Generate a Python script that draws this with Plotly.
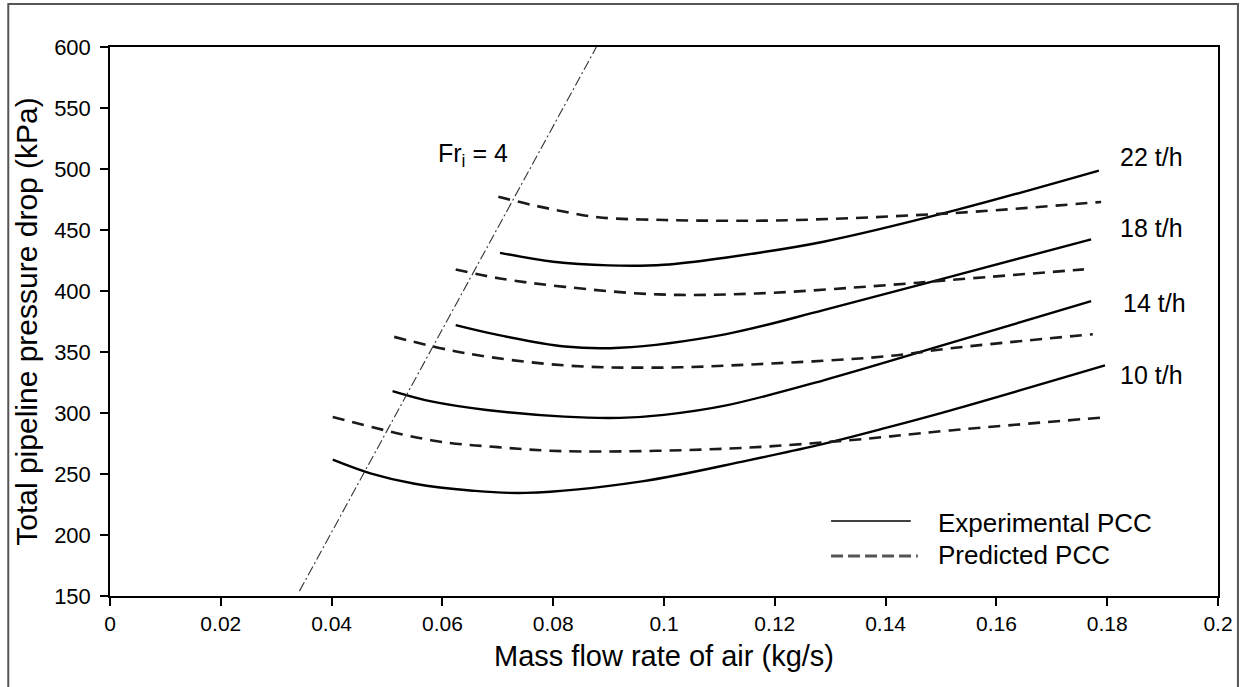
import plotly.graph_objects as go

# ---- data ----
exp10_x = [0.0402, 0.047, 0.055, 0.065, 0.075, 0.096, 0.115, 0.1276, 0.1402, 0.1516, 0.1796]
exp10_y = [261.7, 250.5, 242.0, 236.5, 234.5, 244.0, 261.0, 273.4, 288.0, 302.0, 339.0]
pred10_x = [0.0402, 0.0582, 0.070, 0.0821, 0.1109, 0.133, 0.1516, 0.1796]
pred10_y = [296.7, 277.5, 272.0, 268.7, 270.7, 277.5, 285.7, 296.5]

exp14_x = [0.051, 0.058, 0.068, 0.082, 0.092, 0.100, 0.111, 0.1288, 0.1516, 0.1771]
exp14_y = [318.0, 309.5, 302.5, 297.0, 296.0, 298.5, 306.0, 326.8, 357.2, 391.7]
pred14_x = [0.0513, 0.0642, 0.0821, 0.0989, 0.1168, 0.1402, 0.1516, 0.1774]
pred14_y = [362.4, 349.0, 339.0, 337.2, 340.0, 346.5, 353.0, 364.6]

exp18_x = [0.0624, 0.070, 0.0821, 0.092, 0.111, 0.1288, 0.1516, 0.1771]
exp18_y = [372.0, 364.0, 354.5, 353.5, 364.5, 384.3, 411.6, 442.3]
pred18_x = [0.0624, 0.0701, 0.0821, 0.0989, 0.1168, 0.1402, 0.1516, 0.1758]
pred18_y = [417.7, 410.5, 403.4, 397.2, 398.0, 404.8, 409.0, 417.7]

exp22_x = [0.0704, 0.080, 0.090, 0.100, 0.111, 0.1288, 0.1516, 0.1785]
exp22_y = [431.3, 424.0, 421.0, 421.5, 427.3, 440.4, 465.0, 498.7]
pred22_x = [0.0701, 0.0762, 0.0821, 0.0881, 0.1001, 0.112, 0.124, 0.1516, 0.1789]
pred22_y = [477.3, 470.5, 465.0, 460.4, 458.2, 457.6, 458.2, 463.7, 473.0]

fr_x = [0.0342, 0.0878]
fr_y = [154.0, 600.0]

rate_labels = ["22 t/h", "18 t/h", "14 t/h", "10 t/h"]
rate_label_x = [0.188, 0.188, 0.1886, 0.188]
rate_label_y = [510, 451.6, 390, 331]

x_ticks = [0, 0.02, 0.04, 0.06, 0.08, 0.1, 0.12, 0.14, 0.16, 0.18, 0.2]
x_ticktext = ["0", "0.02", "0.04", "0.06", "0.08", "0.1", "0.12", "0.14", "0.16", "0.18", "0.2"]
y_ticks = [150, 200, 250, 300, 350, 400, 450, 500, 550, 600]

FONT = "Liberation Sans, Arial, sans-serif"

fig = go.Figure()

solid = dict(color="black", width=2.4, shape="spline", smoothing=1.0)
dashed = dict(color="#1a1a1a", width=2.6, dash="12px,8px", shape="spline", smoothing=1.0)

for xs, ys in [(exp10_x, exp10_y), (exp14_x, exp14_y), (exp18_x, exp18_y), (exp22_x, exp22_y)]:
    fig.add_trace(go.Scatter(x=xs, y=ys, mode="lines", line=solid, showlegend=False, hoverinfo="skip"))
for xs, ys in [(pred10_x, pred10_y), (pred14_x, pred14_y), (pred18_x, pred18_y), (pred22_x, pred22_y)]:
    fig.add_trace(go.Scatter(x=xs, y=ys, mode="lines", line=dashed, showlegend=False, hoverinfo="skip"))

fig.add_trace(go.Scatter(x=fr_x, y=fr_y, mode="lines",
                         line=dict(color="#333333", width=1.1, dash="10px,3px,2px,3px"),
                         showlegend=False, hoverinfo="skip", cliponaxis=True))

annotations = []
for t, x, y in zip(rate_labels, rate_label_x, rate_label_y):
    annotations.append(dict(x=x, y=y, xref="x", yref="y", text=t, showarrow=False,
                            xanchor="center", yanchor="middle",
                            font=dict(family=FONT, size=25, color="black")))
annotations.append(dict(x=0.0588, y=511.6, xref="x", yref="y", text="Fr<sub>i</sub> = 4",
                        showarrow=False, xanchor="left", yanchor="middle",
                        font=dict(family=FONT, size=25, color="black")))

# legend (drawn manually)
L = 110.0
W = 1111.0
B = 596.0
H = 549.0
def px(xp):
    return (xp - L) / W
def py(yp):
    return (B - yp) / H

annotations.append(dict(x=px(938), y=py(523), xref="paper", yref="paper", text="Experimental PCC",
                        showarrow=False, xanchor="left", yanchor="middle",
                        font=dict(family=FONT, size=26, color="black")))
annotations.append(dict(x=px(938), y=py(555), xref="paper", yref="paper", text="Predicted PCC",
                        showarrow=False, xanchor="left", yanchor="middle",
                        font=dict(family=FONT, size=26, color="black")))

shapes = [
    dict(type="line", xref="paper", yref="paper", x0=px(833), x1=px(913), y0=py(521), y1=py(521),
         line=dict(color="black", width=1.5)),
    dict(type="line", xref="paper", yref="paper", x0=px(833), x1=px(920), y0=py(556), y1=py(556),
         line=dict(color="#555555", width=3.2, dash="12px,5px")),
    dict(type="rect", xref="paper", yref="paper", x0=px(8), x1=px(1241), y0=py(720), y1=py(4),
         line=dict(color="#555555", width=2), fillcolor="rgba(0,0,0,0)", layer="below"),
]

fig.update_layout(
    width=1245, height=687,
    margin=dict(l=110, r=24, t=47, b=91),
    paper_bgcolor="white", plot_bgcolor="white",
    font=dict(family=FONT, size=22, color="black"),
    annotations=annotations, shapes=shapes,
    showlegend=False,
)
fig.update_xaxes(range=[0, 0.2], tickvals=x_ticks, ticktext=x_ticktext,
                 ticks="outside", ticklen=8, tickwidth=1.5, tickcolor="black",
                 showline=True, linecolor="black", linewidth=1.5, mirror=True,
                 showgrid=False, zeroline=False,
                 tickfont=dict(family=FONT, size=21, color="black"),
                 title=dict(text="Mass flow rate of air (kg/s)", standoff=12,
                            font=dict(family=FONT, size=29, color="black")))
fig.update_yaxes(range=[150, 600], tickvals=y_ticks,
                 ticks="outside", ticklen=8, tickwidth=1.5, tickcolor="black",
                 showline=True, linecolor="black", linewidth=1.5, mirror=True,
                 showgrid=False, zeroline=False, ticklabelstandoff=5,
                 tickfont=dict(family=FONT, size=22, color="black"),
                 title=dict(text="Total pipeline pressure drop (kPa)", standoff=8,
                            font=dict(family=FONT, size=30, color="black")))

fig.write_html("out.html")
